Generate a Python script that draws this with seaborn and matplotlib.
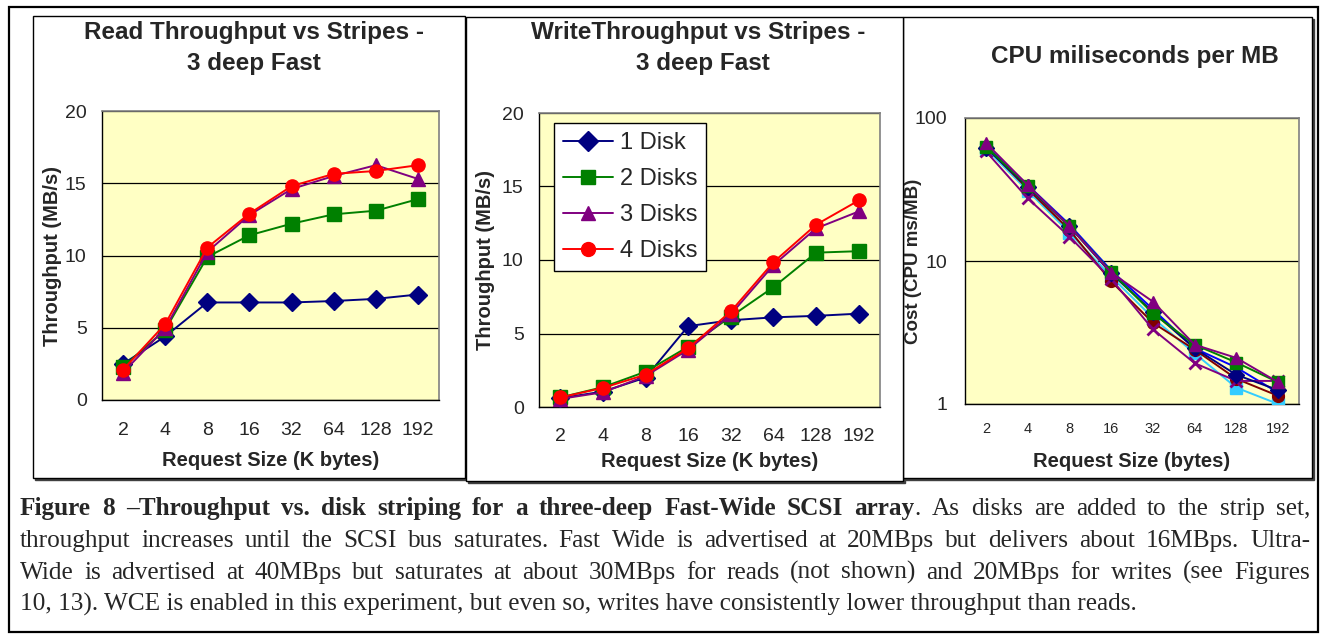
import matplotlib
matplotlib.use("Agg")
import matplotlib.pyplot as plt
import seaborn as sns
import pandas as pd
import numpy as np
from matplotlib.patches import Rectangle
from matplotlib.lines import Line2D

# ---------------- data ----------------
sizes = ["2", "4", "8", "16", "32", "64", "128", "192"]
disk_names = ["1 Disk", "2 Disks", "3 Disks", "4 Disks"]

read_1 = [2.5, 4.4, 6.75, 6.75, 6.75, 6.85, 7.0, 7.3]
read_2 = [2.3, 4.85, 9.9, 11.4, 12.2, 12.85, 13.1, 13.9]
read_3 = [1.9, 4.95, 10.25, 12.8, 14.6, 15.5, 16.25, 15.3]
read_4 = [2.1, 5.25, 10.55, 12.9, 14.8, 15.65, 15.85, 16.25]

write_1 = [0.6, 1.05, 2.0, 5.5, 5.9, 6.1, 6.2, 6.35]
write_2 = [0.65, 1.35, 2.4, 4.1, 6.15, 8.15, 10.5, 10.6]
write_3 = [0.55, 1.0, 2.1, 3.9, 6.3, 9.65, 12.15, 13.3]
write_4 = [0.65, 1.3, 2.2, 4.0, 6.5, 9.85, 12.4, 14.05]

cpu_1 = [62, 33, 17.5, 8.2, 4.4, 2.45, 1.6, 1.25]
cpu_2 = [63, 33.5, 17.5, 8.4, 4.3, 2.6, 1.95, 1.42]
cpu_3 = [67, 34, 17.5, 8.3, 5.2, 2.6, 2.1, 1.42]
cpu_4 = [63, 32, 16.5, 7.2, 3.7, 2.4, 1.5, 1.14]
cpu_5 = [61, 31, 15.8, 7.8, 4.0, 2.26, 1.3, 1.0]
cpu_6 = [58.5, 27.5, 14.8, 7.5, 3.33, 1.93, 1.45, 1.45]
cpu_7 = [64, 34, 18, 8.6, 4.6, 2.45, 1.8, 1.2]

disk_colors = ["#000080", "#008000", "#800080", "#FF0000"]
disk_markers = ["D", "s", "^", "o"]
cpu_order = [6, 4, 3, 5, 0, 1, 2]  # drawing order (indices into cpu arrays)
cpu_markers_all = ["D", "s", "^", "o", "s", "x", "_"]
cpu_colors_all = ["#000080", "#008000", "#800080", "#800000", "#33CCFF", "#800080", "#0000FF"]

W, H = 1325, 635
fig = plt.figure(figsize=(W / 100, H / 100), dpi=100)
sns.set_style("white")
plt.rcParams["font.family"] = ["Liberation Sans", "DejaVu Sans"]

BG = "#FFFFC4"


def fbox(l, t, r, b):
    return [l / W, 1 - b / H, (r - l) / W, (b - t) / H]


def frect(l, t, r, b, **kw):
    rect = Rectangle((l / W, 1 - b / H), (r - l) / W, (b - t) / H,
                     transform=fig.transFigure, **kw)
    fig.add_artist(rect)
    return rect


# outer frame and panel boxes
frect(9, 7, 1318, 632, fill=False, edgecolor="black", lw=1.6, zorder=-3)
for (l, t, r, b) in [(33, 16, 465, 478), (903, 17, 1312, 478), (466, 17, 903, 481)]:
    frect(l + 2, t + 2, r + 2, b + 2, facecolor="#404040", edgecolor="#404040", lw=1, zorder=-2)
    frect(l, t, r, b, facecolor="white", edgecolor="black", lw=1.0, zorder=-1)


def long_df(names, arrays):
    rows = []
    for n, arr in zip(names, arrays):
        for i, v in enumerate(arr):
            rows.append({"pos": i, "value": v, "series": n})
    return pd.DataFrame(rows)


def style_axes(ax, ylim, yticks, ylabel, xlabel, xfs=14, xpad=16, ypad=6, ylfs=14.5):
    ax.set_facecolor(BG)
    ax.set_xlim(-0.5, len(sizes) - 0.5)
    ax.set_xticks(range(len(sizes)))
    ax.set_xticklabels(sizes, fontsize=xfs)
    ax.set_xticks(np.arange(-0.5, len(sizes), 1.0), minor=True)
    ax.tick_params(axis="x", which="major", length=0, pad=xpad)
    ax.tick_params(axis="x", which="minor", length=5, direction="out", color="black", width=1)
    ax.tick_params(axis="y", which="major", length=5, direction="out", color="black",
                   labelsize=14, pad=ypad)
    ax.set_ylim(*ylim)
    ax.set_yticks(yticks)
    ax.yaxis.grid(True, color="black", lw=0.9)
    ax.xaxis.grid(False)
    ax.set_axisbelow(True)
    for s in ["top", "right"]:
        ax.spines[s].set_color("#808080")
        ax.spines[s].set_linewidth(1.2)
    for s in ["left", "bottom"]:
        ax.spines[s].set_color("black")
        ax.spines[s].set_linewidth(1.0)
    ax.set_ylabel(ylabel, fontsize=ylfs, fontweight="bold")
    ax.set_xlabel(xlabel, fontsize=14.5, fontweight="bold")


def fix_edges(ax):
    for line in ax.get_lines():
        line.set_markeredgecolor(line.get_color())
        if line.get_marker() in ("x", "_"):
            line.set_markeredgewidth(2.0)
        else:
            line.set_markeredgewidth(1.0)


def draw_lines(ax, df, names, colors, markers, ms):
    sns.lineplot(data=df, x="pos", y="value", hue="series", style="series",
                 hue_order=names, style_order=names,
                 palette=dict(zip(names, colors)),
                 markers=dict(zip(names, markers)), dashes=False,
                 markersize=ms, linewidth=1.4, legend=False, ax=ax, zorder=3)
    fix_edges(ax)


# ---- panel 1: read ----
ax1 = fig.add_axes(fbox(102, 111, 439, 400))
draw_lines(ax1, long_df(disk_names, [read_1, read_2, read_3, read_4]),
           disk_names, disk_colors, disk_markers, 9.5)
style_axes(ax1, (0, 20), [0, 5, 10, 15, 20], "Throughput (MB/s)", "Request Size (K bytes)", xpad=16)
ax1.yaxis.set_label_coords(-0.119, 0.5)
ax1.xaxis.set_label_coords(0.5, -0.176)

# ---- panel 2: write ----
ax2 = fig.add_axes(fbox(539, 113, 880, 407))
draw_lines(ax2, long_df(disk_names, [write_1, write_2, write_3, write_4]),
           disk_names, disk_colors, disk_markers, 9.5)
style_axes(ax2, (0, 20), [0, 5, 10, 15, 20], "Throughput (MB/s)", "Request Size (K bytes)", xpad=15)
ax2.yaxis.set_label_coords(-0.129, 0.5)
ax2.xaxis.set_label_coords(0.5, -0.153)
handles = [Line2D([], [], color=c, marker=m, markersize=10, lw=1.4, markeredgecolor=c)
           for c, m in zip(disk_colors, disk_markers)]
leg = ax2.legend(handles, disk_names, loc="upper left", bbox_to_anchor=(0.044, 0.966),
                 fontsize=17, frameon=True, fancybox=False, edgecolor="black",
                 handlelength=2.1, handletextpad=0.3, borderpad=0.38, labelspacing=0.6,
                 borderaxespad=0)
leg.get_frame().set_linewidth(1.0)
leg.get_frame().set_facecolor("white")
leg.get_frame().set_alpha(1)

# ---- panel 3: cpu ----
ax3 = fig.add_axes(fbox(965, 118, 1299, 404))
cpu_arrays = [cpu_1, cpu_2, cpu_3, cpu_4, cpu_5, cpu_6, cpu_7]
for k in cpu_order:
    sns.lineplot(x=list(range(len(sizes))), y=cpu_arrays[k], color=cpu_colors_all[k],
                 marker=cpu_markers_all[k], markersize=8.5 if cpu_markers_all[k] != "_" else 9,
                 linewidth=1.4, ax=ax3, legend=False, zorder=3)
fix_edges(ax3)
ax3.set_yscale("log")
style_axes(ax3, (1, 100), [1, 10, 100], "Cost (CPU ms/MB)", "Request Size (bytes)",
           xfs=10.5, xpad=13, ypad=8, ylfs=13.5)
ax3.set_yticklabels(["1", "10", "100"])
ax3.yaxis.set_minor_locator(matplotlib.ticker.NullLocator())
ax3.yaxis.set_label_coords(-0.13, 0.5)
ax3.xaxis.set_label_coords(0.5, -0.168)

# ---- titles ----
tkw = dict(fontsize=17.5, fontweight="bold", ha="center", va="baseline")
fig.text(254 / W, 1 - 39 / H, "Read Throughput vs Stripes -", **tkw)
fig.text(254 / W, 1 - 70 / H, "3 deep Fast", **tkw)
fig.text(698 / W, 1 - 39 / H, "WriteThroughput vs Stripes -", **tkw)
fig.text(703 / W, 1 - 70 / H, "3 deep Fast", **tkw)
fig.text(1135 / W, 1 - 63 / H, "CPU miliseconds per MB", **tkw)

# ---- caption (justified) ----
cap_lines = [
    [("Figure 8 –Throughput vs. disk striping for a three-deep Fast-Wide SCSI array", True),
     (". As disks are added to the strip set,", False)],
    [("throughput increases until the SCSI bus saturates. Fast Wide is advertised at 20MBps but delivers about 16MBps. Ultra-", False)],
    [("Wide is advertised at 40MBps but saturates at about 30MBps for reads (not shown) and 20MBps for writes (see Figures", False)],
    [("10, 13). WCE is enabled in this experiment, but even so, writes have consistently lower throughput than reads.", False)],
]
renderer = fig.canvas.get_renderer()
cap_font = "Liberation Serif"


def measure(s, bold, fs):
    t = fig.text(0, 0, s, fontsize=fs, fontweight="bold" if bold else "normal", family=cap_font)
    w = t.get_window_extent(renderer).width
    t.remove()
    return w


# calibrate font size so last line spans ~1115 px
fs0 = 16.0
w_last = measure(cap_lines[3][0][0], False, fs0)
cfs = fs0 * 1115 / w_last

x_left, x_right = 20, 1310
baselines = [515, 547, 579, 611]
for li, segs in enumerate(cap_lines):
    if li == 3:
        fig.text(x_left / W, 1 - baselines[li] / H, segs[0][0], fontsize=cfs,
                 family=cap_font, ha="left", va="baseline")
        continue
    words = []  # (text, bold, glue)
    for si, (s, bold) in enumerate(segs):
        parts = s.split(" ")
        for pi, p in enumerate(parts):
            if p == "":
                continue
            glue = (pi == 0 and si > 0 and not s.startswith(" "))
            words.append((p, bold, glue))
    widths = [measure(w, b, cfs) for (w, b, g) in words]
    ngaps = sum(1 for (w, b, g) in words[1:] if not g)
    gap = (x_right - x_left - sum(widths)) / max(ngaps, 1)
    x = x_left
    for wi, ((w, b, g), wd) in enumerate(zip(words, widths)):
        if wi > 0 and not g:
            x += gap
        fig.text(x / W, 1 - baselines[li] / H, w, fontsize=cfs,
                 fontweight="bold" if b else "normal", family=cap_font,
                 ha="left", va="baseline")
        x += wd

fig.savefig("out.png", dpi=100)
